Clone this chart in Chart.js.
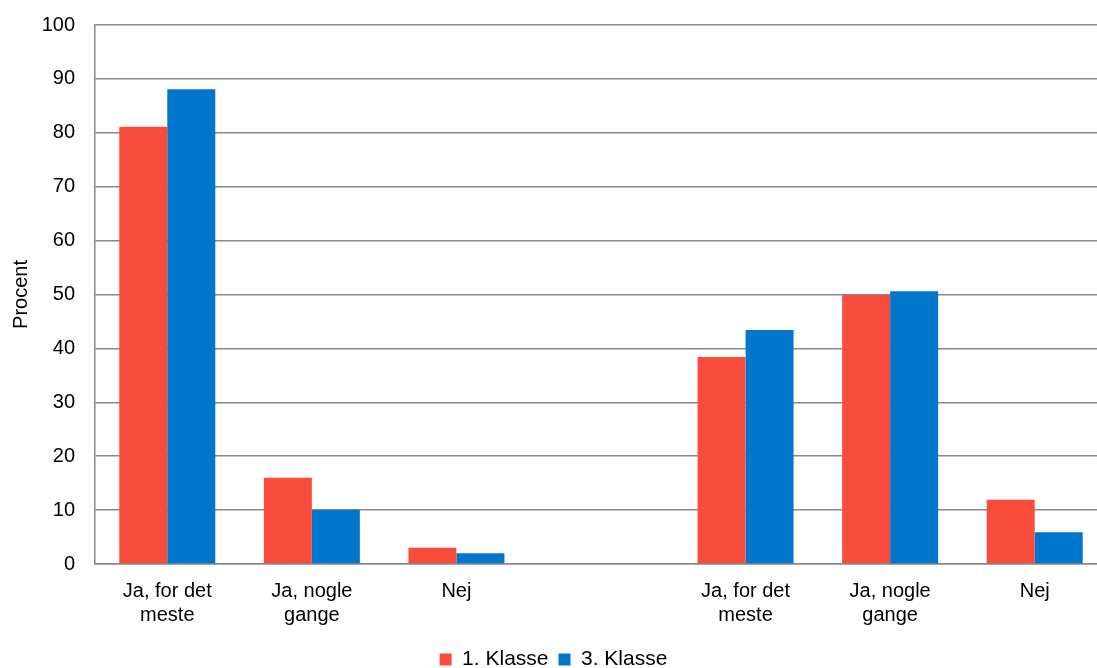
<!DOCTYPE html>
<html>
<head>
<meta charset="utf-8">
<script src="https://cdn.jsdelivr.net/npm/chart.js@4/dist/chart.umd.min.js"></script>
<style>
html,body{margin:0;padding:0;background:#fff;overflow:hidden;}
#wrap{width:1097px;height:668px;position:relative;overflow:hidden;}
</style>
</head>
<body>
<div id="wrap"><canvas id="c" width="1112" height="668"></canvas></div>
<script>
const categories = [
  ["Ja, for det", "meste"], ["Ja, nogle", "gange"], "Nej", "",
  ["Ja, for det", "meste"], ["Ja, nogle", "gange"], "Nej"
];
const seriesNames = ["1. Klasse", "3. Klasse"];
const klasse1 = [81.1, 16.0, 3.0, null, 38.4, 49.9, 11.9];
const klasse3 = [88.1, 10.0, 2.0, null, 43.4, 50.6, 5.9];
const yTicks = { min: 0, max: 100, step: 10 };
const yTitle = "Procent";

const FONT = "'Liberation Sans', Arial, sans-serif";
const GRID = '#888888';

new Chart(document.getElementById('c'), {
  type: 'bar',
  data: {
    labels: categories,
    datasets: [
      { label: seriesNames[0], data: klasse1, backgroundColor: '#F84C3C',
        categoryPercentage: 0.664, barPercentage: 1.0 },
      { label: seriesNames[1], data: klasse3, backgroundColor: '#0077CC',
        categoryPercentage: 0.664, barPercentage: 1.0 }
    ]
  },
  options: {
    responsive: false,
    animation: false,
    layout: { padding: { top: 25, right: 5, left: 0, bottom: -12 } },
    plugins: {
      tooltip: { enabled: false },
      legend: {
        position: 'bottom',
        labels: {
          font: { family: FONT, size: 21 },
          color: '#000',
          boxWidth: 12, boxHeight: 12, padding: 10
        }
      }
    },
    scales: {
      x: {
        grid: { display: false, drawTicks: false },
        border: { display: true, color: GRID, width: 1.5 },
        ticks: { color: '#000', font: { family: FONT, size: 20 }, padding: 15,
                 maxRotation: 0, autoSkip: false },
        afterFit: (s) => { s.height = 75; s.paddingLeft = 0; s.paddingRight = 0; }
      },
      y: {
        min: yTicks.min, max: yTicks.max,
        ticks: { stepSize: yTicks.step, color: '#000', font: { family: FONT, size: 20 }, padding: 20 },
        grid: { color: GRID, lineWidth: 1.5, drawTicks: false },
        border: { display: true, color: GRID, width: 1.5 },
        title: { display: true, text: yTitle, color: '#000',
                 font: { family: FONT, size: 20 }, padding: { top: 9, bottom: 4 } },
        afterFit: (s) => { s.width = 95; s.paddingTop = 0; s.paddingBottom = 0; }
      }
    }
  }
});
</script>
</body>
</html>
